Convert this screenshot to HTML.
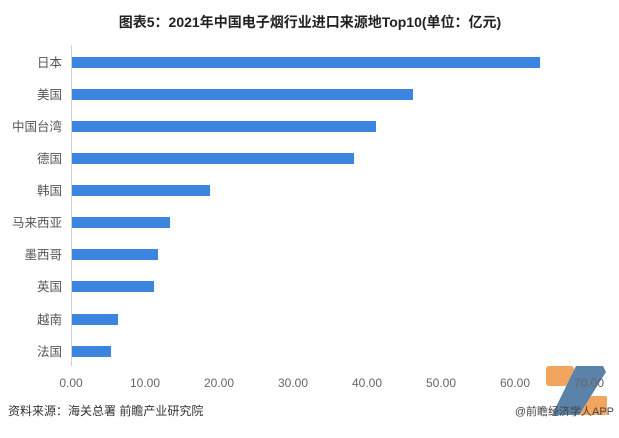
<!DOCTYPE html>
<html><head><meta charset="utf-8"><style>
body{margin:0;width:619px;height:433px;background:#fff;overflow:hidden;font-family:"Liberation Sans","Noto Sans CJK SC",sans-serif;}
</style></head><body>
<svg width="619" height="433" xmlns="http://www.w3.org/2000/svg" style="font-family:'Liberation Sans','Noto Sans CJK SC',sans-serif">
<text x="310" y="27" text-anchor="middle" font-size="14" font-weight="bold" fill="#222">图表5：2021年中国电子烟行业进口来源地Top10(单位：亿元)</text>
<line x1="71.5" y1="45" x2="71.5" y2="366" stroke="#d0d0d0" stroke-width="1"/>
<g fill="#3b84e0">
<rect x="72" y="57" width="468" height="11"/>
<rect x="72" y="89" width="341" height="11"/>
<rect x="72" y="121" width="304" height="11"/>
<rect x="72" y="153" width="282" height="11"/>
<rect x="72" y="185" width="138" height="11"/>
<rect x="72" y="217" width="98" height="11"/>
<rect x="72" y="249" width="86" height="11"/>
<rect x="72" y="281" width="82" height="11"/>
<rect x="72" y="314" width="46" height="11"/>
<rect x="72" y="346" width="39" height="11"/>
</g>
<g font-size="12.5" fill="#555" text-anchor="end">
<text x="62" y="67">日本</text>
<text x="62" y="99">美国</text>
<text x="62" y="131">中国台湾</text>
<text x="62" y="163">德国</text>
<text x="62" y="195">韩国</text>
<text x="62" y="227">马来西亚</text>
<text x="62" y="259">墨西哥</text>
<text x="62" y="291">英国</text>
<text x="62" y="324">越南</text>
<text x="62" y="356">法国</text>
</g>
<rect x="546" y="366" width="28" height="20" rx="3" fill="#f2a55e"/>
<rect x="574" y="396" width="33" height="19" rx="2" fill="#f2a55e"/>
<polygon points="576,366 603,366 606,372 579,415 552,415" fill="#5b82a8"/>
<g font-size="12" fill="#666" text-anchor="middle">
<text x="71" y="387">0.00</text>
<text x="145" y="387">10.00</text>
<text x="219" y="387">20.00</text>
<text x="293" y="387">30.00</text>
<text x="367" y="387">40.00</text>
<text x="441" y="387">50.00</text>
<text x="515" y="387">60.00</text>
<text x="589" y="387">70.00</text>
</g>
<text x="8" y="415" font-size="12" fill="#333">资料来源：海关总署 前瞻产业研究院</text>
<text x="614" y="415" font-size="11" fill="#444" text-anchor="end">@前瞻经济学人APP</text>
</svg>
</body></html>
